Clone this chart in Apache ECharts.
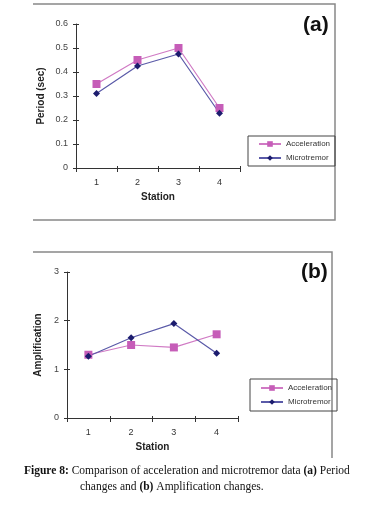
<!DOCTYPE html>
<html>
<head>
<meta charset="utf-8">
<script src="https://cdn.jsdelivr.net/npm/echarts@6/dist/echarts.min.js"></script>
<style>
  html, body { margin: 0; padding: 0; background: #fff; }
  #chart { width: 366px; height: 506px; }
</style>
</head>
<body>
<div id="chart"></div>
<script>
// stations on the x axis
var stations = ['1', '2', '3', '4'];

// (a) period in seconds
var periodAcceleration = [0.35, 0.45, 0.5, 0.25];
var periodMicrotremor = [0.31, 0.425, 0.475, 0.228];

// (b) amplification
var ampAcceleration = [1.3, 1.5, 1.45, 1.72];
var ampMicrotremor = [1.27, 1.65, 1.94, 1.33];

var accColor = '#c65db8';
var accLine = '#d07ac4';
var micColor = '#1c1c6e';
var micLine = '#5a5aa8';
var axisColor = '#333';
var labelFont = 'Liberation Sans';

var dom = document.getElementById('chart');
var myChart = echarts.init(dom);

// show=false gives a bare copy of the axis carrying only inner ticks,
// so the ticks cross the axis line like in the original
var xAxisBase = function (gridIndex, show) {
    return {
        type: 'category',
        gridIndex: gridIndex,
        position: 'bottom',
        data: stations,
        boundaryGap: true,
        name: show ? 'Station' : '',
        nameLocation: 'middle',
        nameGap: 24,
        nameTextStyle: { fontFamily: labelFont, fontWeight: 'bold', fontSize: 10, color: '#222' },
        axisLine: { show: show, onZero: false, lineStyle: { color: axisColor, width: 1 } },
        axisTick: { show: true, inside: !show, length: show ? 4 : 2, lineStyle: { color: axisColor } },
        axisLabel: { show: show, margin: 10, fontFamily: labelFont, fontSize: 9, color: '#333' },
        splitLine: { show: false }
    };
};

var yAxisBase = function (gridIndex, max, interval, name, gap, show) {
    return {
        type: 'value',
        gridIndex: gridIndex,
        position: 'left',
        min: 0,
        max: max,
        interval: interval,
        name: show ? name : '',
        nameLocation: 'middle',
        nameGap: gap,
        nameTextStyle: { fontFamily: labelFont, fontWeight: 'bold', fontSize: 10, color: '#222' },
        axisLine: { show: show, onZero: false, lineStyle: { color: axisColor, width: 1 } },
        axisTick: { show: true, inside: !show, length: 3, lineStyle: { color: axisColor } },
        axisLabel: { show: show, margin: 8, fontFamily: labelFont, fontSize: 9, color: '#444' },
        splitLine: { show: false }
    };
};

var lineSeries = function (name, data, idx, isAcc) {
    return {
        name: name,
        type: 'line',
        xAxisIndex: idx,
        yAxisIndex: idx,
        data: data,
        symbol: isAcc ? 'rect' : 'diamond',
        symbolSize: isAcc ? 8 : 7,
        itemStyle: { color: isAcc ? accColor : micColor },
        lineStyle: { color: isAcc ? accLine : micLine, width: 1.2 },
        animation: false
    };
};

var legendBase = function (left, top, padV) {
    return {
        left: left,
        top: top,
        orient: 'vertical',
        itemWidth: 22,
        itemHeight: 7,
        itemGap: 6,
        padding: [padV, 5, padV, 10],
        borderColor: '#444',
        borderWidth: 1,
        textStyle: { fontFamily: labelFont, fontSize: 8, color: '#333' },
        data: ['Acceleration', 'Microtremor']
    };
};

var captionRich = {
    b: { fontFamily: 'Liberation Serif', fontWeight: 'bold', fontSize: 11.5, fill: '#111' },
    n: { fontFamily: 'Liberation Serif', fontSize: 11.5, fill: '#111' }
};

var option = {
    animation: false,
    grid: [
        { left: 76, top: 24, width: 164, height: 144 },
        { left: 67, top: 272, width: 171, height: 146 }
    ],
    xAxis: [
        xAxisBase(0, true),
        xAxisBase(1, true),
        xAxisBase(0, false),
        xAxisBase(1, false)
    ],
    yAxis: [
        yAxisBase(0, 0.6, 0.1, 'Period (sec)', 30, true),
        yAxisBase(1, 3, 1, 'Amplification', 24, true),
        yAxisBase(0, 0.6, 0.1, '', 0, false),
        yAxisBase(1, 3, 1, '', 0, false)
    ],
    legend: [
        legendBase(248, 136, 4),
        legendBase(250, 379, 5)
    ],
    series: [
        lineSeries('Acceleration', periodAcceleration, 0, true),
        lineSeries('Microtremor', periodMicrotremor, 0, false),
        lineSeries('Acceleration', ampAcceleration, 1, true),
        lineSeries('Microtremor', ampMicrotremor, 1, false)
    ],
    graphic: [
        // frame of panel (a)
        { type: 'polyline', shape: { points: [[33, 4], [335, 4], [335, 220], [33, 220]] },
          style: { stroke: '#888', lineWidth: 1.5, fill: null } },
        // frame of panel (b)
        { type: 'polyline', shape: { points: [[33, 252], [332, 252], [332, 458]] },
          style: { stroke: '#888', lineWidth: 1.5, fill: null } },
        { type: 'text', left: 303, top: 15,
          style: { text: '(a)', fontFamily: labelFont, fontWeight: 'bold', fontSize: 21, fill: '#111' } },
        { type: 'text', left: 301, top: 262,
          style: { text: '(b)', fontFamily: labelFont, fontWeight: 'bold', fontSize: 21, fill: '#111' } },
        { type: 'text', left: 24, top: 465,
          style: { rich: captionRich,
                   text: '{b|Figure 8:}{n| Comparison of acceleration and microtremor data }{b|(a)}{n| Period}' } },
        { type: 'text', left: 80, top: 481,
          style: { rich: captionRich,
                   text: '{n|changes and }{b|(b)}{n| Amplification changes.}' } }
    ]
};

if (option && typeof option === 'object') {
    myChart.setOption(option, true);
}
window.addEventListener('resize', myChart.resize);
</script>
</body>
</html>
